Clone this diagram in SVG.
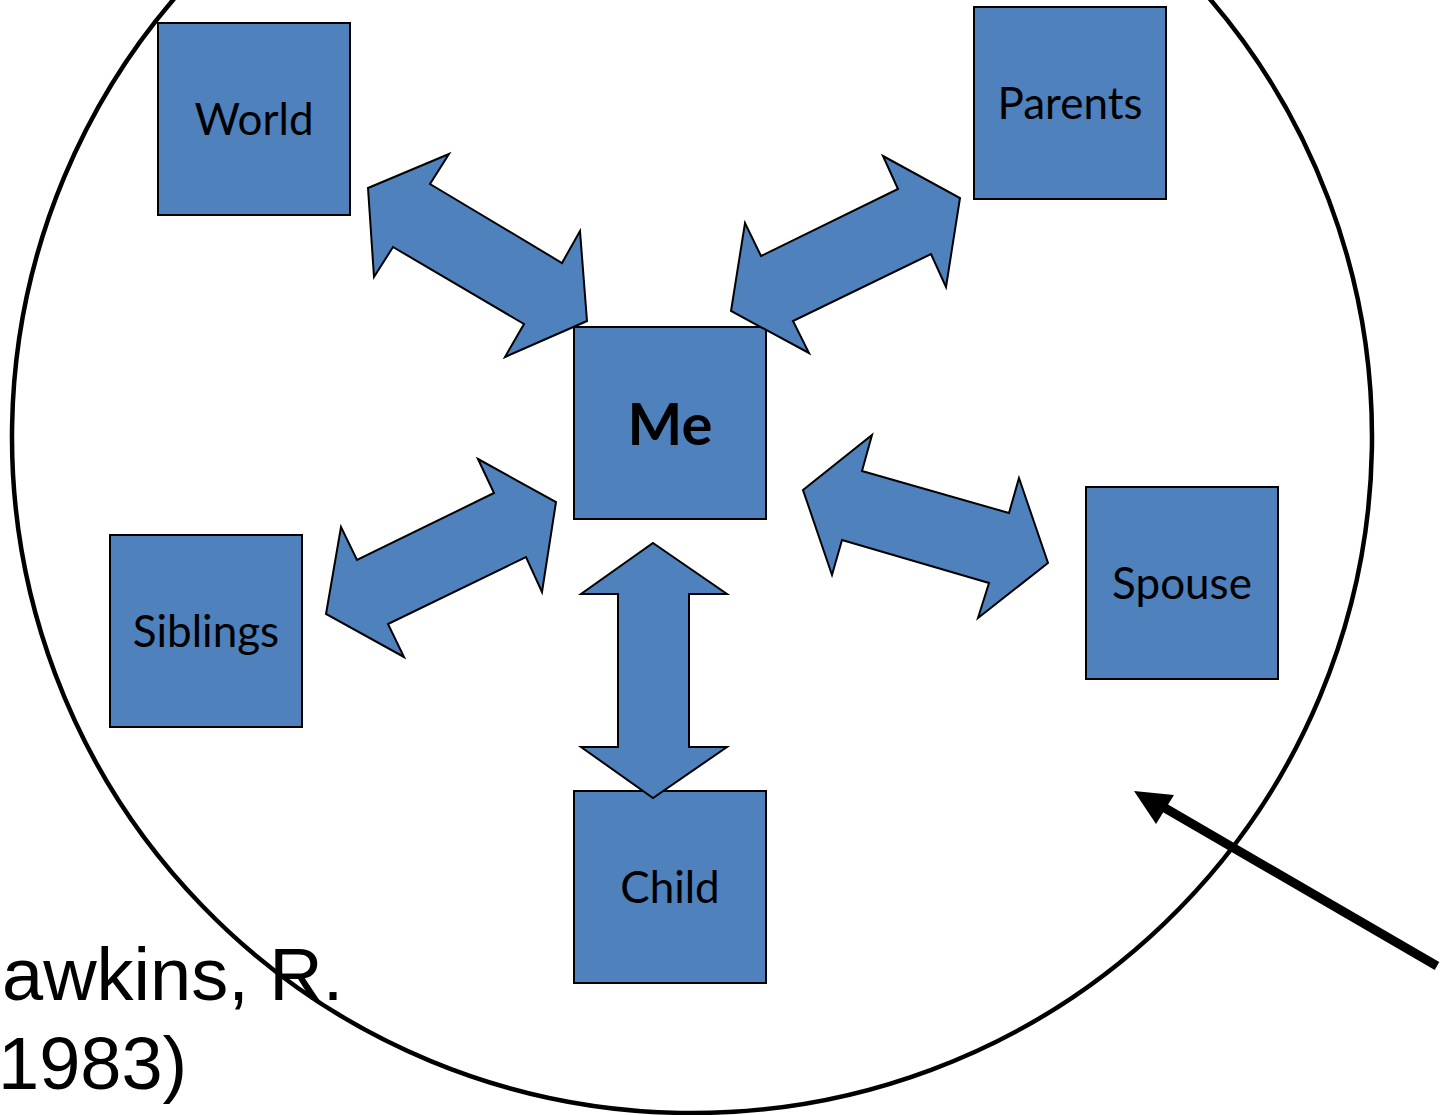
<svg xmlns="http://www.w3.org/2000/svg" width="1441" height="1115" viewBox="0 0 1441 1115">
<style>
.box{fill:#4F81BD;stroke:#000;stroke-width:2}
.arr{fill:#4F81BD;stroke:#000;stroke-width:2;stroke-linejoin:miter}
.lbl{font-family:Lato,"Open Sans",sans-serif;font-size:44px;fill:#000;text-anchor:middle}
.me{font-family:Lato,"Open Sans",sans-serif;font-size:58px;font-weight:bold;fill:#000;text-anchor:middle}
.cite{font-family:"Liberation Sans",Arial,sans-serif;font-size:74px;fill:#000}
</style>
<rect width="1441" height="1115" fill="#fff"/>
<g id="citation">
<text class="cite" x="2" y="1000">awkins, R.</text>
<text class="cite" x="-2" y="1089">1983)</text>
</g>
<ellipse id="boundary" cx="692" cy="437" rx="680" ry="676" transform="rotate(1 692 437)" fill="none" stroke="#000" stroke-width="4.5"/>
<g id="world"><rect class="box" x="158" y="23" width="192" height="192"/><text class="lbl" x="254" y="135">World</text></g>
<g id="parents"><rect class="box" x="974" y="7" width="192" height="192"/><text class="lbl" x="1070" y="119">Parents</text></g>
<g id="me"><rect class="box" x="574" y="327" width="192" height="192"/><text class="me" x="670" y="445">Me</text></g>
<g id="siblings"><rect class="box" x="110" y="535" width="192" height="192"/><text class="lbl" x="206" y="647">Siblings</text></g>
<g id="spouse"><rect class="box" x="1086" y="487" width="192" height="192"/><text class="lbl" x="1182" y="599">Spouse</text></g>
<g id="child"><rect class="box" x="574" y="791" width="192" height="192"/><text class="lbl" x="670" y="903">Child</text></g>
<g id="connectors">
<polygon class="arr" points="368,188 449,154 430,184 562,263 580,231 587,321 505,357 524,324 393,247 374,277"/>
<polygon class="arr" points="883,156 960,198 946,287 931,254 793,321 809,353 731,311 745,223 761,256 898,189"/>
<polygon class="arr" points="478,459 556,502 542,592 526,557 388,624 404,657 326,614 341,527 357,560 494,493"/>
<polygon class="arr" points="803,490 872,435 862,471 1009,513 1019,478 1048,563 978,618 989,583 842,540 832,575"/>
<polygon class="arr" points="653,543 727,594 689,594 689,747 727,747 653,798 581,747 618,747 618,594 581,594"/>
<line x1="1437" y1="966" x2="1158" y2="804" stroke="#000" stroke-width="9"/>
<polygon points="1134,791 1174,795 1156,824" fill="#000"/>
</g>
</svg>
